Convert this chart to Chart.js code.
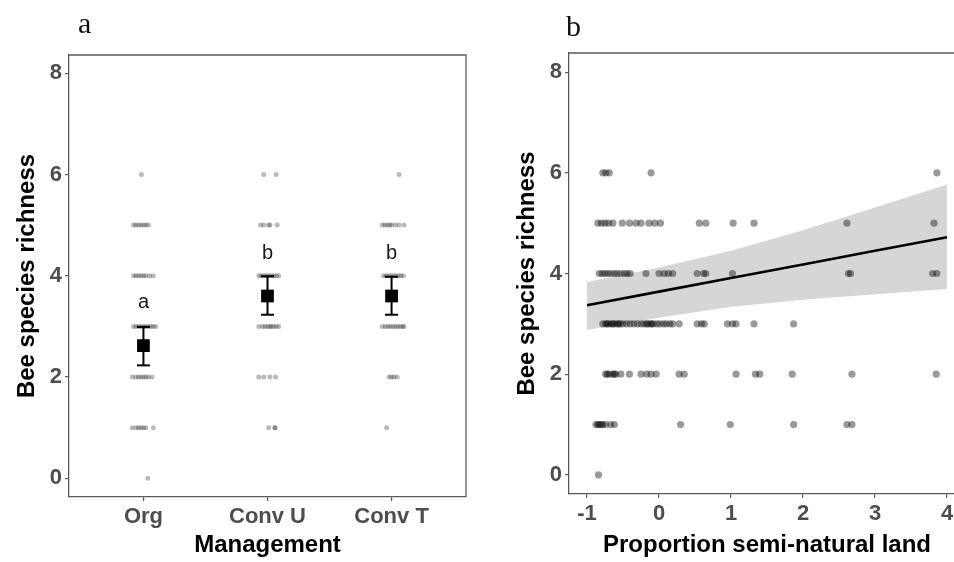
<!DOCTYPE html>
<html>
<head>
<meta charset="utf-8">
<script src="https://cdn.jsdelivr.net/npm/chart.js@4.4.1/dist/chart.umd.min.js"></script>
<style>
  html, body { margin: 0; padding: 0; background: #fff; overflow: hidden; }
  #wrap { position: relative; width: 954px; height: 562px; overflow: hidden; }
  .panel { position: absolute; top: 0; }
  .tag { position: absolute; font-family: "Liberation Serif", serif; font-size: 30px; color: #111; line-height: 1; }
</style>
</head>
<body>
<div id="wrap">
  <canvas id="chartA" class="panel" width="480" height="562" style="left:0px"></canvas>
  <canvas id="chartB" class="panel" width="500" height="562" style="left:480px"></canvas>
  <div class="tag" style="left:78px; top:8px">a</div>
  <div class="tag" style="left:566px; top:11px">b</div>
</div>
<script>
// panel a: management categories
const managementLabels = ["Org", "Conv U", "Conv T"];
const richnessTicks = [0, 2, 4, 6, 8];

// horizontal jitter of each site, one list per richness value 0..6
const orgOffsets = [
  [0.035],
  [-0.09, -0.06, -0.04, -0.02, 0.0, 0.02, 0.08],
  [-0.09, -0.06, -0.04, -0.02, 0.0, 0.02, 0.04, 0.07],
  [-0.08, -0.06, -0.04, -0.02, 0.0, 0.02, 0.04, 0.06, 0.08, 0.1],
  [-0.08, -0.06, -0.04, -0.02, 0.0, 0.02, 0.05, 0.08],
  [-0.08, -0.06, -0.04, -0.02, 0.0, 0.02, 0.04],
  [-0.016]
];
const convUOffsets = [
  [],
  [0.01, 0.06, 0.06],
  [-0.07, -0.03, 0.02, 0.065],
  [-0.07, -0.04, -0.02, 0.0, 0.02, 0.03, 0.05, 0.07, 0.09],
  [-0.07, -0.05, -0.03, -0.01, 0.01, 0.03, 0.05, 0.07, 0.09],
  [-0.056, -0.03, 0.01, 0.02, 0.078],
  [-0.03, 0.07]
];
const convTOffsets = [
  [],
  [-0.04],
  [-0.02, 0.0, 0.02, 0.045],
  [-0.075, -0.05, -0.03, -0.01, 0.01, 0.03, 0.05, 0.07, 0.09, 0.1],
  [-0.065, -0.045, -0.025, -0.005, 0.015, 0.035, 0.055, 0.075, 0.095],
  [-0.075, -0.055, -0.035, -0.015, 0.0, 0.03, 0.06, 0.1],
  [0.06]
];

const meanRichness = [2.62, 3.60, 3.60];
const errLow = [2.23, 3.23, 3.23];
const errHigh = [2.99, 3.99, 3.98];
const groupLetters = ["a", "b", "b"];
const letterY = [3.47, 4.44, 4.44];

// panel b: proportion semi-natural land per richness value 0..6
const propTicks = [-1, 0, 1, 2, 3, 4];
const landByRichness = [
  [-0.84],
  [-0.875, -0.85, -0.83, -0.8, -0.78, -0.74, -0.67, -0.62, 0.30, 0.99, 1.87, 2.61, 2.68],
  [-0.74, -0.72, -0.69, -0.64, -0.62, -0.60, -0.53, -0.41, -0.25, -0.17, -0.11, -0.04, 0.28, 0.35, 1.07, 1.34, 1.40, 1.85, 2.68, 3.85],
  [-0.78, -0.74, -0.72, -0.70, -0.66, -0.64, -0.62, -0.58, -0.56, -0.54, -0.50, -0.45, -0.40, -0.35, -0.30, -0.25, -0.21, -0.17, -0.16, -0.12, -0.10, -0.08, -0.03, 0.01, 0.06, 0.10, 0.15, 0.19, 0.28, 0.53, 0.59, 0.63, 0.95, 1.02, 1.07, 1.32, 1.87],
  [-0.83, -0.79, -0.75, -0.71, -0.67, -0.62, -0.58, -0.53, -0.48, -0.44, -0.40, -0.18, 0.0, 0.07, 0.13, 0.19, 0.53, 0.62, 0.65, 1.02, 2.63, 2.66, 3.80, 3.86],
  [-0.85, -0.80, -0.75, -0.70, -0.64, -0.51, -0.41, -0.32, -0.25, -0.14, -0.06, 0.02, 0.56, 0.65, 1.03, 1.32, 2.61, 3.82],
  [-0.78, -0.74, -0.69, -0.11, 3.86]
];

// fitted line and confidence band
const fitX = [-1, 0, 1, 2, 3, 4];
const fitY = [3.37, 3.64, 3.91, 4.18, 4.45, 4.72];
const bandUpper = [3.83, 4.12, 4.45, 4.86, 5.31, 5.77];
const bandLower = [2.88, 3.12, 3.34, 3.48, 3.59, 3.69];

const axisGray = "#5a5a5a";
const tickFont = { family: "Liberation Sans", size: 22, weight: "bold" };
const titleFont = { family: "Liberation Sans", size: 24, weight: "bold" };

function groupPoints(center, offsets) {
  const pts = [];
  offsets.forEach((row, r) => {
    row.forEach(off => pts.push({ x: center + off, y: r }));
  });
  return pts;
}

const framePlugin = {
  id: "frame",
  afterDraw(chart) {
    const { ctx, chartArea } = chart;
    ctx.save();
    ctx.strokeStyle = axisGray;
    ctx.lineWidth = 1.3;
    ctx.beginPath();
    ctx.moveTo(chartArea.left, chartArea.top);
    ctx.lineTo(chartArea.right, chartArea.top);
    ctx.lineTo(chartArea.right, chartArea.bottom);
    ctx.stroke();
    ctx.restore();
  }
};

const letterPlugin = {
  id: "letters",
  afterDatasetsDraw(chart) {
    const { ctx, scales } = chart;
    ctx.save();
    ctx.font = "20px 'Liberation Sans'";
    ctx.fillStyle = "#1a1a1a";
    ctx.textAlign = "center";
    ctx.textBaseline = "middle";
    groupLetters.forEach((t, i) => {
      ctx.fillText(t, scales.x.getPixelForValue(i + 1), scales.y.getPixelForValue(letterY[i]));
    });
    ctx.restore();
  }
};

function yScale(min, max, width, titlePad) {
  return {
    type: "linear", min: min, max: max,
    afterFit: s => { s.width = width; },
    afterBuildTicks: s => { s.ticks = richnessTicks.map(v => ({ value: v })); },
    ticks: { font: tickFont, color: "#4d4d4d", padding: 3 },
    grid: { display: true, drawOnChartArea: false, tickLength: 4, color: axisGray, lineWidth: 1.2 },
    border: { display: true, color: axisGray, width: 1.3 },
    title: { display: true, text: "Bee species richness", font: titleFont, color: "#000", padding: { top: titlePad, bottom: 0 } }
  };
}

function xScale(min, max, height, tickValues, labelFn, titleText) {
  return {
    type: "linear", min: min, max: max,
    afterFit: s => { s.height = height; },
    afterBuildTicks: s => { s.ticks = tickValues.map(v => ({ value: v })); },
    ticks: { font: tickFont, color: "#4d4d4d", padding: 3, autoSkip: false, maxRotation: 0, callback: labelFn },
    grid: { display: true, drawOnChartArea: false, tickLength: 4, color: axisGray, lineWidth: 1.2 },
    border: { display: true, color: axisGray, width: 1.3 },
    title: { display: true, text: titleText, font: titleFont, color: "#000", padding: { top: 0, bottom: 2 } }
  };
}

const dotStyle = { backgroundColor: "rgba(0,0,0,0.27)", borderWidth: 0, pointRadius: 2.5, pointHoverRadius: 2.5, order: 3 };

const errorSets = managementLabels.map((lab, i) => ({
  type: "line",
  data: [{ x: i + 1, y: errLow[i] }, { x: i + 1, y: errHigh[i] }],
  showLine: true,
  borderColor: "#000",
  borderWidth: 2,
  pointStyle: "line",
  pointRadius: 6.5,
  pointBorderWidth: 2,
  pointBorderColor: "#000",
  order: 1
}));

new Chart(document.getElementById("chartA"), {
  type: "scatter",
  data: {
    datasets: [
      Object.assign({ data: groupPoints(1, orgOffsets) }, dotStyle),
      Object.assign({ data: groupPoints(2, convUOffsets) }, dotStyle),
      Object.assign({ data: groupPoints(3, convTOffsets) }, dotStyle),
      ...errorSets,
      {
        data: meanRichness.map((m, i) => ({ x: i + 1, y: m })),
        pointStyle: "rect",
        pointRadius: 9,
        backgroundColor: "#000",
        borderWidth: 0,
        order: 0
      }
    ]
  },
  options: {
    responsive: false,
    animation: false,
    devicePixelRatio: 1,
    layout: { padding: { top: 55, right: 14, left: 0, bottom: 0 } },
    plugins: { legend: { display: false }, tooltip: { enabled: false } },
    scales: {
      x: xScale(0.4, 3.6, 65, [1, 2, 3], v => managementLabels[Math.round(v) - 1], "Management"),
      y: yScale(-0.37, 8.36, 69, 13)
    }
  },
  plugins: [framePlugin, letterPlugin]
});

const landPoints = [];
landByRichness.forEach((row, r) => row.forEach(x => landPoints.push({ x: x, y: r })));

new Chart(document.getElementById("chartB"), {
  type: "scatter",
  data: {
    datasets: [
      {
        type: "line",
        data: fitX.map((x, i) => ({ x: x, y: bandUpper[i] })),
        showLine: true,
        borderWidth: 0,
        pointRadius: 0,
        backgroundColor: "#d6d6d6",
        fill: "+1",
        order: 5
      },
      {
        type: "line",
        data: fitX.map((x, i) => ({ x: x, y: bandLower[i] })),
        showLine: true,
        borderWidth: 0,
        pointRadius: 0,
        fill: false,
        order: 5
      },
      {
        data: landPoints,
        backgroundColor: "rgba(0,0,0,0.4)",
        borderWidth: 0,
        pointRadius: 3.6,
        order: 2
      },
      {
        type: "line",
        data: fitX.map((x, i) => ({ x: x, y: fitY[i] })),
        showLine: true,
        borderColor: "#000",
        borderWidth: 2.6,
        pointRadius: 0,
        fill: false,
        order: 0
      }
    ]
  },
  options: {
    responsive: false,
    animation: false,
    devicePixelRatio: 1,
    layout: { padding: { top: 53, right: 15, left: 0, bottom: 0 } },
    plugins: { legend: { display: false }, tooltip: { enabled: false } },
    scales: {
      x: xScale(-1.25, 4.25, 68, propTicks, v => v, "Proportion semi-natural land"),
      y: yScale(-0.38, 8.38, 89, 33)
    }
  },
  plugins: [framePlugin]
});
</script>
</body>
</html>
